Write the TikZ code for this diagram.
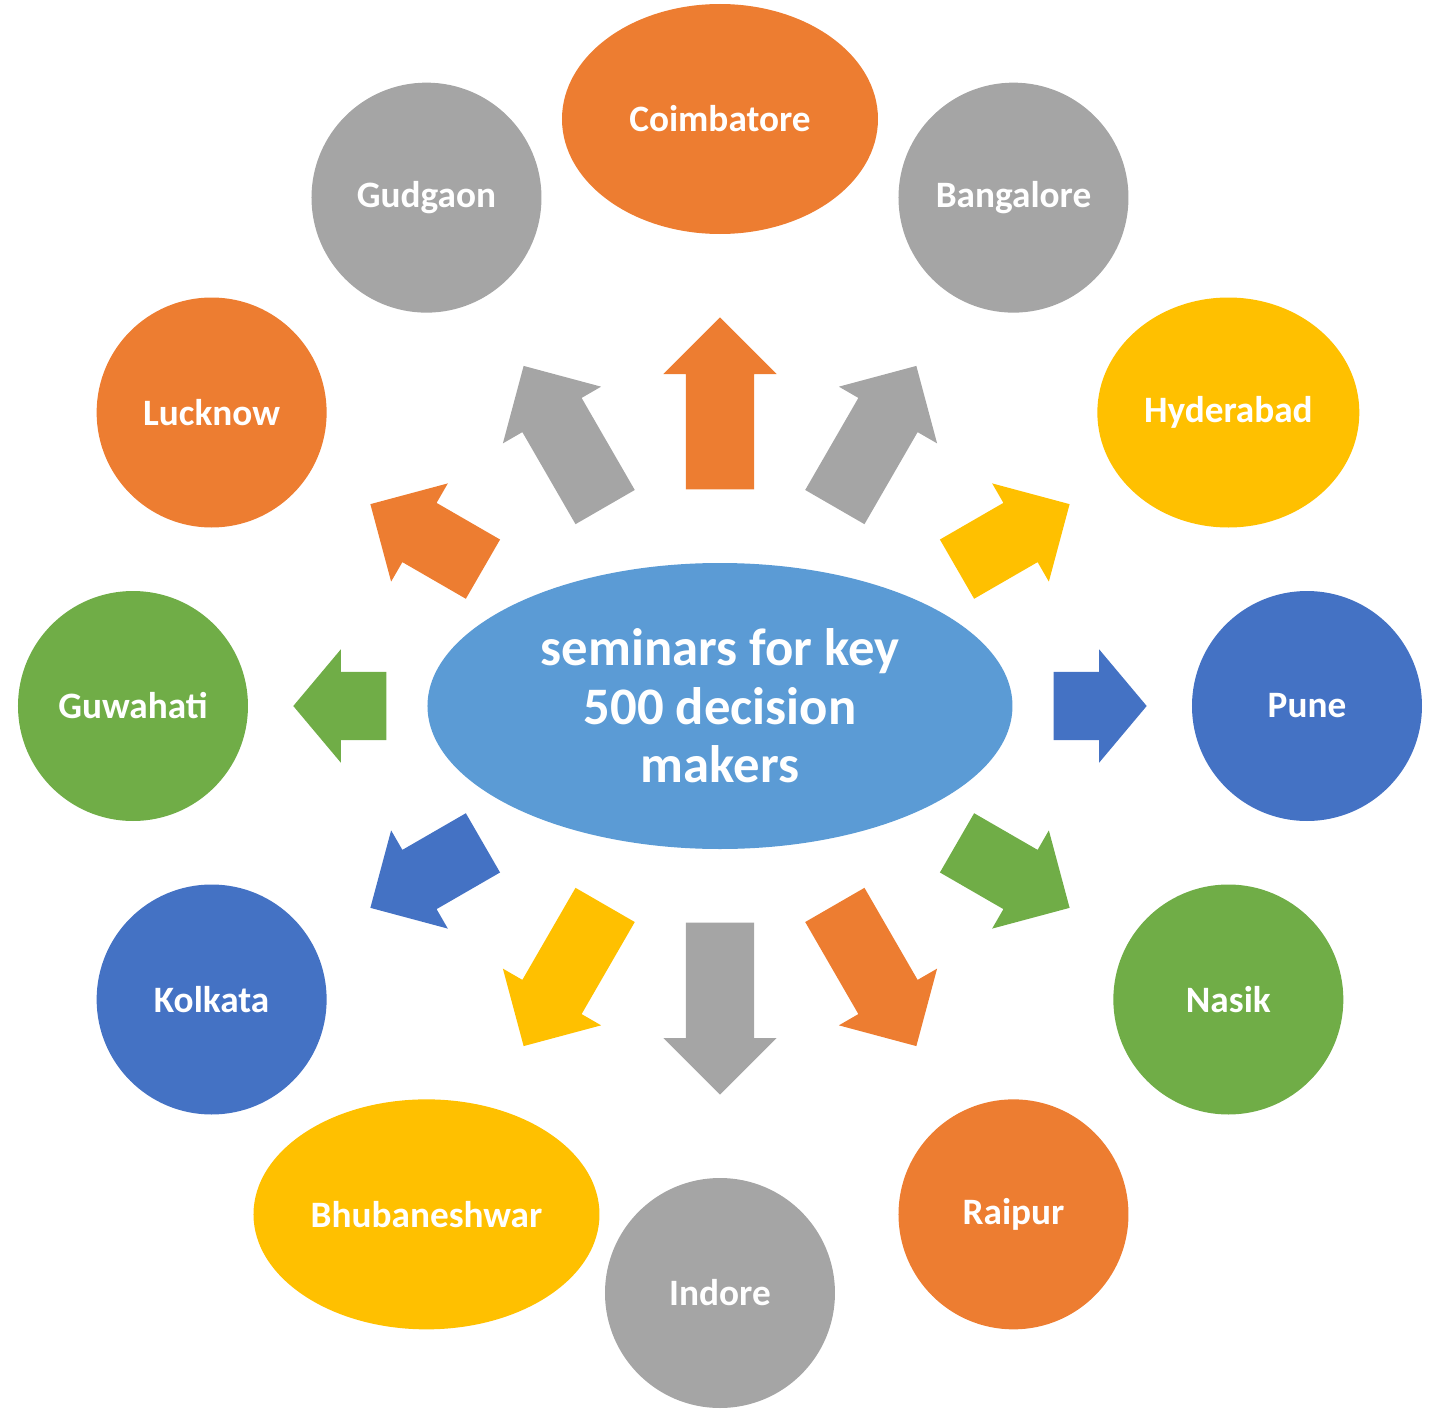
\documentclass[tikz,border=0pt]{standalone}
\usepackage{fontspec}
\setmainfont{Carlito}
\usepackage{xcolor}
\usepackage{tikz}
\usetikzlibrary{shapes.geometric, shapes.arrows}
\definecolor{accorange}{HTML}{ED7D31}
\definecolor{accgray}{HTML}{A5A5A5}
\definecolor{accyellow}{HTML}{FFC000}
\definecolor{accblue}{HTML}{4472C4}
\definecolor{accgreen}{HTML}{70AD47}
\definecolor{hubblue}{HTML}{5B9BD5}

\begin{document}
\begin{tikzpicture}[
		city/.style={ellipse, fill=#1, minimum height=2.3cm, inner sep=0pt, text=white, font=\bfseries\fontsize{10.6}{13}\selectfont},
		hub/.style={ellipse, fill=hubblue, minimum width=5.85cm, minimum height=2.86cm, inner sep=0pt, align=center, text=white, font=\bfseries\fontsize{15}{16.6}\selectfont},
		spoke/.style={single arrow, draw=none, inner xsep=0pt, inner ysep=0.335cm, single arrow head extend=0.225cm}]
			\useasboundingbox (-7.20,-7.05) rectangle (7.14,7.06);
			\node[hub] (hub) at (0,0) {seminars for key\\500 decision\\makers};
			\foreach \name/\ang/\clr/\w in {Coimbatore/90/accorange/3.16, Bangalore/60/accgray/2.3, Hyderabad/30/accyellow/2.62, Pune/0/accblue/2.3, Nasik/-30/accgreen/2.3, Raipur/-60/accorange/2.3, Indore/-90/accgray/2.3, Bhubaneshwar/-120/accyellow/3.46, Kolkata/-150/accblue/2.3, Guwahati/180/accgreen/2.3, Lucknow/150/accorange/2.3, Gudgaon/120/accgray/2.3}
			{
				\node[city=\clr, minimum width=\w cm] (\name) at (\ang:5.87) {\name};
			}
			\foreach \ang/\clr/\rin/\rout/\tip[count=\iSpoke] in {90/accorange/2.16/3.88/90, 60/accgray/2.29/3.92/90, 30/accyellow/2.73/4.03/90, 0/accblue/3.33/4.26/100, -30/accgreen/2.73/4.03/90, -60/accorange/2.29/3.92/90, -90/accgray/2.16/3.88/90, -120/accyellow/2.29/3.92/90, -150/accblue/2.73/4.03/90, 180/accgreen/3.33/4.26/100, 150/accorange/2.73/4.03/90, 120/accgray/2.29/3.92/90}
			{
				\node[spoke, fill=\clr, minimum height=\rout cm-\rin cm, single arrow tip angle=\tip, rotate=\ang, anchor=tail] (spoke\iSpoke) at (\ang:\rin) {};
			}
		\end{tikzpicture}
\end{document}
